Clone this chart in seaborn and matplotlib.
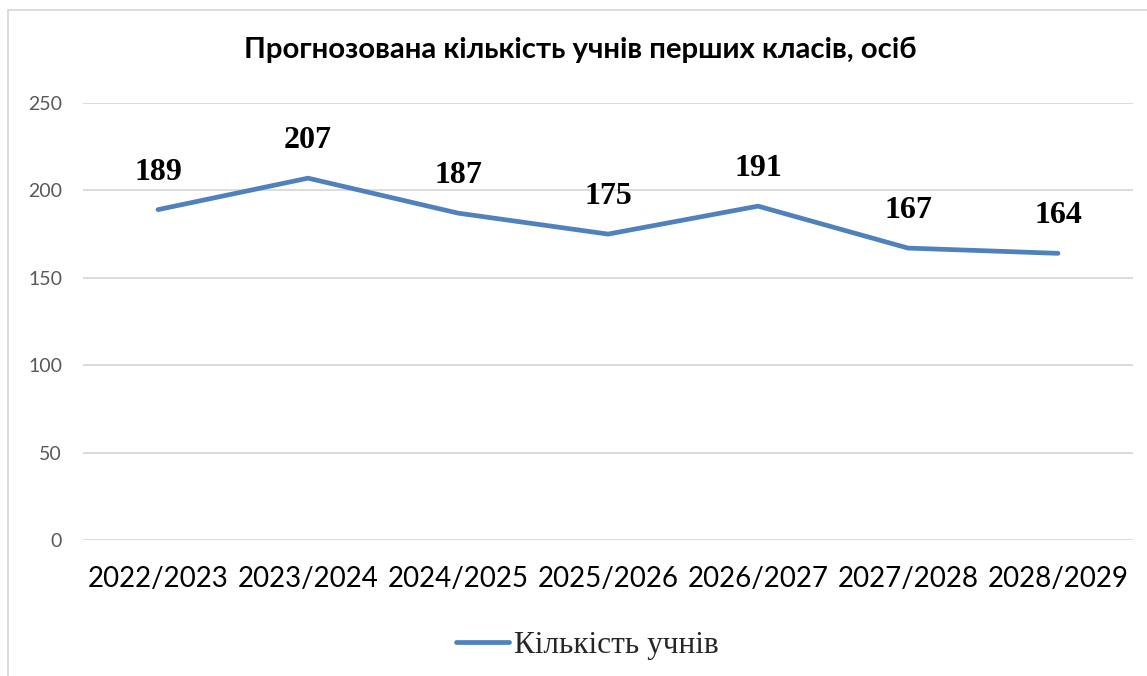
import matplotlib
matplotlib.use("Agg")
import matplotlib.pyplot as plt
import seaborn as sns
import pandas as pd
from matplotlib.patches import Rectangle

years = ["2022/2023", "2023/2024", "2024/2025", "2025/2026", "2026/2027", "2027/2028", "2028/2029"]
students = [189, 207, 187, 175, 191, 167, 164]
yticks = [0, 50, 100, 150, 200, 250]
title = "Прогнозована кількість учнів перших класів, осіб"
series_name = "Кількість учнів"

sns.set_theme(style="white")
plt.rcParams['font.family'] = ['Lato', 'DejaVu Sans']

df = pd.DataFrame({"year": years, "value": students})

fig = plt.figure(figsize=(11.47, 6.76), dpi=100)
ax = fig.add_axes([83/1147, 1-540/676, (1133-83)/1147, (540-103)/676])

color = "#4F81BD"
sns.lineplot(data=df, x="year", y="value", ax=ax, color=color, linewidth=3.4,
             sort=False, label=series_name, solid_capstyle="round")

ax.set_xlim(-0.5, len(years) - 0.5)
ax.set_ylim(0, 250)
ax.set_yticks(yticks)
ax.yaxis.grid(True, color="#D9D9D9", linewidth=1.3)
ax.set_axisbelow(True)
for s in ax.spines.values():
    s.set_visible(False)
ax.tick_params(axis="y", length=0, pad=15, labelsize=14, labelcolor="#595959")
ax.tick_params(axis="x", length=0, pad=19, labelsize=20, labelcolor="#000000")
ax.set_xlabel("")
ax.set_ylabel("")

for i, v in enumerate(students):
    ax.annotate(str(v), (i, v), xytext=(0, 27), textcoords="offset points",
                ha="center", va="center", fontsize=23, fontweight="bold",
                family="Liberation Serif", color="black")

fig.text(580/1147, 1-50/676, title, ha="center", va="center", fontsize=21.2,
         fontweight="bold", color="black")

leg = ax.legend(loc="center", bbox_to_anchor=(0.48, (540-645)/437), frameon=False,
                prop={"family": "Liberation Serif", "size": 22.5}, handlelength=1.7,
                handletextpad=0.15)

fig.patches.append(Rectangle((8/1147, -0.02), 1.2, 1-10/676+0.02, transform=fig.transFigure,
                             fill=False, edgecolor="#D9D9D9", linewidth=1.3))

fig.savefig("out.png", dpi=100, facecolor="white")
